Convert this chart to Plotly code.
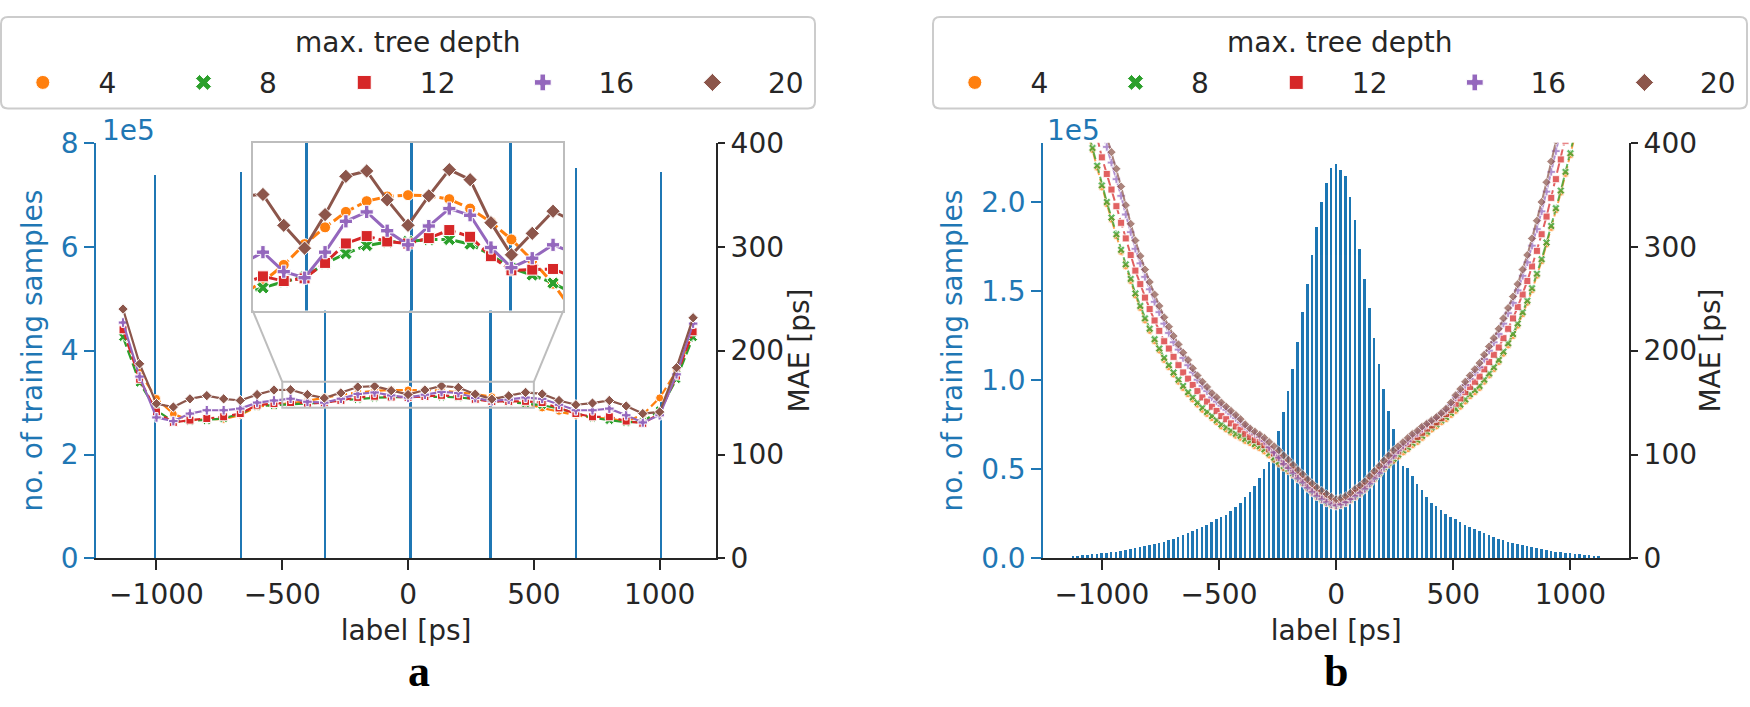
import plotly.graph_objects as go

W, H = 1750, 707
BLUE = '#1f77b4'
INK = '#262626'
FRAME = '#bdbdbd'
FONT = 'DejaVu Sans'
FS = 28

depths = ['4', '8', '12', '16', '20']
colors = ['#ff7f0e', '#2ca02c', '#d62728', '#9467bd', '#8c564b']
symbols = ['circle', 'x', 'square', 'cross', 'diamond']
dashes = ['10px,4px', '10px,4px', '10px,4px', 'solid', 'solid']

# ---------------- panel a ----------------
hist_a_x = [-1005, -662, -328, 11, 329, 668, 1006]
hist_a_n = [738000, 744000, 750000, 755000, 749000, 751000, 745000]

label_a = [-1133, -1067, -1000, -933, -867, -800, -733, -667, -600, -533, -467, -400,
           -333, -267, -200, -133, -67, 0, 67, 133, 200, 267, 333, 400, 467, 533, 600,
           667, 733, 800, 867, 933, 1000, 1067, 1133]
mae_a_4 = [218, 179, 154, 139, 133, 134, 134, 138, 146, 147.5, 149.3, 151.8, 154.9, 157.4,
           159.7, 161.3, 162.0, 162.2, 162.1, 161.6, 160.2, 158.2, 155.6, 152.5, 149.0, 144.8,
           141.6, 137.8, 135.4, 134.7, 131.6, 138.5, 154.5, 180.3, 216.6]
mae_a_8 = [213, 169, 142.6, 131.6, 132.2, 133.1, 134.7, 139.4, 146.5, 147.5, 148.4, 149.3,
           150.0, 152.0, 153.5, 154.7, 155.2, 155.3, 155.6, 155.6, 154.9, 153.3, 151.3, 150.3,
           149.1, 147.5, 144.2, 139.4, 135.4, 133.1, 130.9, 131.6, 142.6, 172.5, 212.8]
mae_a_12 = [220, 172.5, 141.0, 130.9, 133.1, 134.7, 136.3, 139.4, 147.5, 149.0, 150.1, 149.4,
            149.8, 152.1, 155.0, 156.1, 155.3, 155.0, 155.8, 157.0, 156.0, 153.1, 151.0, 151.1,
            151.2, 150.0, 144.8, 139.4, 136.3, 136.3, 132.2, 130.0, 139.4, 175.6, 218.1]
mae_a_16 = [227, 175, 135.7, 132.2, 139.4, 142.6, 142.6, 144.2, 150.0, 152.0, 153.7, 150.8,
            149.9, 153.7, 158.3, 159.7, 156.9, 154.8, 157.6, 160.2, 159.2, 154.4, 151.4, 152.8,
            154.8, 153.6, 147.9, 142.6, 142.6, 144.2, 137.8, 130.9, 137.8, 177.2, 226.0]
mae_a_20 = [240, 187.3, 148.9, 145.7, 153.6, 156.7, 153.6, 152.0, 157.7, 162.1, 162.3, 157.7,
            154.3, 159.3, 165.0, 165.8, 161.5, 157.7, 162.1, 166.0, 164.5, 158.1, 153.3, 156.5,
            159.8, 158.3, 152.0, 147.9, 149.5, 152.0, 146.7, 139.4, 141.0, 183.5, 231.6]

# ---------------- panel b ----------------
label_b = [-1122, -1102, -1081, -1061, -1040, -1020, -1000, -979, -959, -938,
           -918, -898, -877, -857, -836, -816, -796, -775, -755, -734,
           -714, -694, -673, -653, -632, -612, -592, -571, -551, -530,
           -510, -490, -469, -449, -428, -408, -388, -367, -347, -326,
           -306, -286, -265, -245, -224, -204, -184, -163, -143, -122,
           -102, -82, -61, -41, -20, 0, 20, 41, 61, 82, 102,
           122, 143, 163, 184, 204, 224, 245, 265, 286, 306,
           326, 347, 367, 388, 408, 428, 449, 469, 490, 510,
           530, 551, 571, 592, 612, 632, 653, 673, 694, 714,
           734, 755, 775, 796, 816, 836, 857, 877, 898, 918,
           938, 959, 979, 1000, 1020, 1040, 1061, 1081, 1102, 1122]
hist_b_n = [1500, 1700, 1900, 2100, 2400, 2700, 3000, 3300, 3600, 4000,
            4400, 4800, 5300, 5800, 6300, 6900, 7500, 8200, 8900, 9600,
            10400, 11300, 12200, 13200, 14200, 15300, 16500, 17800, 19000, 20500,
            22000, 23500, 24700, 26500, 28900, 31300, 34400, 37200, 40800, 45000,
            50400, 54200, 61000, 71500, 82500, 94100, 106600, 121300, 138500, 154100,
            170300, 186200, 200000, 211000, 218900, 221300,
            218300, 214900, 202900, 189900, 173900, 157100, 140900, 124000, 109300, 95000,
            83000, 73000, 61900, 51900, 50900, 46400, 41700, 38400, 34800, 31100,
            29800, 27100, 24900, 23500, 22000, 20500, 19000, 17800, 16500, 15300,
            14200, 13200, 12200, 11300, 10400, 9600, 8900, 8200, 7500, 6900,
            6300, 5800, 5300, 4800, 4400, 4000, 3600, 3300, 3000, 2700,
            2400, 2100, 1900, 1700, 1500]
mae_b_4 = [470, 450, 430, 410, 393, 376, 357, 341, 326, 310,
           295, 281, 267, 253, 241, 229, 219, 209, 200, 191,
           184, 177, 170, 164, 158, 153, 148, 143, 139, 135,
           131, 127, 124, 121, 118, 116, 113, 111, 108, 106,
           103, 99, 95, 91, 87, 84, 80, 76, 72, 67,
           63, 59, 56, 53, 51, 50,
           51, 53, 56, 59, 62, 66, 71, 76, 81, 86,
           90, 94, 98, 102, 105, 109, 112, 116, 120, 124,
           127, 131, 134, 138, 142, 146, 151, 156, 160, 164,
           170, 176, 182, 189, 197, 205, 214, 224, 235, 246,
           258, 272, 286, 302, 318, 335, 352, 370, 388, 406,
           425, 445, 465, 485, 505]
mae_b_8 = [472, 452, 432, 412, 395, 378, 359, 343, 328, 312,
           297, 283, 269, 255, 243, 231, 221, 211, 202, 193,
           186, 179, 172, 166, 160, 155, 150, 145, 141, 137,
           133, 129, 126, 123, 120, 118, 115, 113, 110, 108,
           105, 101, 97, 93, 89, 86, 82, 78, 74, 69,
           65, 61, 58, 55, 53, 52,
           53, 55, 58, 61, 64, 68, 73, 78, 83, 88,
           92, 96, 100, 104, 107, 111, 114, 118, 122, 126,
           129, 133, 136, 140, 144, 148, 153, 158, 162, 166,
           172, 178, 184, 191, 199, 207, 216, 226, 237, 248,
           260, 274, 288, 304, 320, 337, 354, 372, 390, 408,
           427, 447, 467, 487, 507]
mae_b_12 = [497, 478, 459, 440, 422, 405, 386, 370, 355, 339,
            323, 308, 292, 277, 264, 251, 240, 229, 219, 209,
            202, 194, 186, 179, 173, 167, 161, 155, 151, 146,
            142, 137, 134, 130, 127, 124, 120, 117, 114, 112,
            109, 105, 101, 97, 92, 89, 85, 80, 76, 71,
            67, 63, 60, 57, 55, 53,
            54, 56, 59, 63, 66, 70, 75, 80, 85, 90,
            94, 99, 103, 107, 110, 114, 117, 121, 125, 128,
            131, 135, 139, 143, 149, 154, 160, 165, 170, 175,
            182, 189, 196, 203, 212, 221, 231, 242, 254, 267,
            281, 296, 312, 329, 347, 365, 384, 402, 421, 440,
            460, 480, 500, 520, 540]
mae_b_16 = [521, 503, 484, 466, 448, 430, 412, 396, 381, 365,
            349, 331, 314, 298, 284, 271, 259, 247, 237, 226,
            217, 208, 201, 193, 186, 179, 172, 166, 161, 155,
            151, 147, 143, 139, 135, 131, 127, 123, 120, 117,
            113, 107, 102, 97, 91, 87, 82, 77, 73, 68,
            64, 60, 57, 54, 52, 51,
            52, 54, 57, 60, 63, 67, 72, 77, 82, 88,
            93, 99, 104, 109, 113, 118, 121, 125, 129, 132,
            135, 139, 143, 148, 155, 160, 167, 173, 179, 184,
            192, 200, 208, 216, 226, 236, 246, 258, 272, 285,
            301, 317, 334, 353, 372, 392, 412, 431, 451, 471,
            490, 510, 530, 550, 570]
mae_b_20 = [530, 512, 494, 476, 458, 440, 422, 406, 391, 375,
            358, 340, 322, 306, 291, 278, 266, 254, 243, 232,
            223, 214, 206, 198, 191, 183, 176, 170, 165, 159,
            155, 150, 146, 142, 138, 134, 129, 125, 122, 119,
            116, 112, 108, 104, 99, 95, 90, 85, 81, 76,
            72, 68, 65, 62, 59, 57,
            58, 60, 63, 67, 70, 74, 79, 84, 89, 94,
            99, 104, 108, 112, 116, 120, 123, 127, 130, 133,
            136, 140, 144, 150, 157, 163, 170, 176, 182, 188,
            196, 204, 212, 221, 231, 241, 252, 264, 278, 292,
            308, 325, 343, 362, 382, 402, 422, 442, 462, 482,
            502, 522, 542, 562, 582]

mae_a = [mae_a_4, mae_a_8, mae_a_12, mae_a_16, mae_a_20]
mae_b = [mae_b_4, mae_b_8, mae_b_12, mae_b_16, mae_b_20]

# geometry (pixels of the 1750x707 canvas) and axis ranges
ytop_px, ybot_px = 133, 569
ydom = [1 - ybot_px / H, 1 - ytop_px / H]
xdom_a = [96.1 / W, 716 / W]
xdom_b = [1043.3 / W, 1629 / W]
xrange_a = [-1240, 1224]
xrange_b = [-1250, 1250]
inset_x = [252.7 / W, 563.3 / W]
inset_y = [1 - 309 / H, 1 - ytop_px / H]
zoom_x = [-500, 500]
zoom_mae = [145, 170]
mae_range = [0, 400]
legend_boxes = [(1, 815), (933, 1747)]   # left/right pixel edges of the two legend frames
legend_box_y = (1, 97)

fig = go.Figure()

# histograms
fig.add_trace(go.Bar(x=hist_a_x, y=hist_a_n, width=7, marker_color=BLUE,
                     marker_line_width=0, xaxis='x', yaxis='y', showlegend=False))
fig.add_trace(go.Bar(x=label_b, y=hist_b_n, width=11, marker_color=BLUE,
                     marker_line_width=0, xaxis='x2', yaxis='y3', showlegend=False))
fig.add_trace(go.Bar(x=hist_a_x, y=hist_a_n, width=10, marker_color=BLUE,
                     marker_line_width=0, xaxis='x3', yaxis='y5', showlegend=False))

# MAE curves
for i in range(5):
    fig.add_trace(go.Scatter(
        x=label_a, y=mae_a[i], mode='lines+markers', xaxis='x', yaxis='y2',
        line=dict(color=colors[i], width=2.2, dash=dashes[i]),
        marker=dict(symbol=symbols[i], size=8, color=colors[i],
                    line=dict(color='white', width=1)),
        showlegend=False))
for i in range(5):
    fig.add_trace(go.Scatter(
        x=label_b, y=mae_b[i], mode='lines+markers', xaxis='x2', yaxis='y4',
        line=dict(color=colors[i], width=2, dash=dashes[i]),
        marker=dict(symbol=symbols[i], size=7, color=colors[i],
                    line=dict(color='white', width=0.8)),
        opacity=0.72, showlegend=False))
for i in range(5):
    fig.add_trace(go.Scatter(
        x=label_a, y=mae_a[i], mode='lines+markers', xaxis='x3', yaxis='y6',
        line=dict(color=colors[i], width=3, dash=dashes[i]),
        marker=dict(symbol=symbols[i], size=11, color=colors[i],
                    line=dict(color='white', width=1)),
        showlegend=False))

# legend entries (markers only); padding spaces spread the columns like the original
NB = '\u00a0'
trail = [7, 7, 7, 6, 0]
for leg in ['legend', 'legend2']:
    for i in range(5):
        fig.add_trace(go.Scatter(
            x=[None], y=[None], mode='markers', name=NB * 4 + depths[i] + NB * trail[i],
            xaxis='x', yaxis='y2', legend=leg,
            marker=dict(symbol=symbols[i], size=14, color=colors[i],
                        line=dict(color='white', width=1))))

axis_common = dict(showgrid=False, zeroline=False, showline=True, linewidth=2,
                   ticks='outside', ticklen=10, tickwidth=2)
xt_vals = [-1000, -500, 0, 500, 1000]
xt_text = ['\u22121000', '\u2212500', '0', '500', '1000']


def xaxis_style(dom, rng, anchor):
    return dict(axis_common, domain=dom, range=rng, anchor=anchor,
                linecolor=INK, tickcolor=INK, tickfont=dict(family=FONT, size=FS, color=INK),
                tickvals=xt_vals, ticktext=xt_text,
                title=dict(text='label [ps]', font=dict(family=FONT, size=FS, color=INK), standoff=10))


def count_axis(rng, vals, text, anchor):
    return dict(axis_common, domain=ydom, range=rng, anchor=anchor,
                linecolor=BLUE, tickcolor=BLUE, tickfont=dict(family=FONT, size=FS, color=BLUE),
                tickvals=vals, ticktext=text,
                title=dict(text='no. of training samples',
                           font=dict(family=FONT, size=FS, color=BLUE), standoff=10))


def mae_axis(over, anchor):
    return dict(axis_common, overlaying=over, side='right', range=mae_range, anchor=anchor,
                ticklen=7,
                linecolor=INK, tickcolor=INK, tickfont=dict(family=FONT, size=FS, color=INK),
                tickvals=[0, 100, 200, 300, 400])


inset_axis = dict(showgrid=False, zeroline=False, showline=True, mirror=True,
                  linecolor=FRAME, linewidth=2, ticks='', showticklabels=False)

legend_common = dict(orientation='h', yanchor='middle', y=1 - 70 / H, xanchor='left',
                     bgcolor='rgba(0,0,0,0)', borderwidth=0,
                     font=dict(family=FONT, size=FS, color=INK),
                     entrywidth=0, itemclick=False, itemdoubleclick=False)


# zoom indicator: rectangle and connector lines to the inset corners
def to_data_x(p):
    return xrange_a[0] + (p - xdom_a[0]) / (xdom_a[1] - xdom_a[0]) * (xrange_a[1] - xrange_a[0])


def to_data_mae(p):
    return mae_range[0] + (p - ydom[0]) / (ydom[1] - ydom[0]) * (mae_range[1] - mae_range[0])


def rounded_box(x0, x1, y0, y1, r=7):
    # pixel box -> paper path with rounded corners
    X = lambda v: v / W
    Y = lambda v: 1 - v / H
    return (f'M {X(x0 + r)},{Y(y0)} L {X(x1 - r)},{Y(y0)} Q {X(x1)},{Y(y0)} {X(x1)},{Y(y0 + r)} '
            f'L {X(x1)},{Y(y1 - r)} Q {X(x1)},{Y(y1)} {X(x1 - r)},{Y(y1)} '
            f'L {X(x0 + r)},{Y(y1)} Q {X(x0)},{Y(y1)} {X(x0)},{Y(y1 - r)} '
            f'L {X(x0)},{Y(y0 + r)} Q {X(x0)},{Y(y0)} {X(x0 + r)},{Y(y0)} Z')


shapes = [
    dict(type='rect', xref='x', yref='y2', x0=zoom_x[0], x1=zoom_x[1],
         y0=zoom_mae[0], y1=zoom_mae[1], line=dict(color=FRAME, width=2), layer='above'),
    dict(type='line', xref='x', yref='y2', x0=zoom_x[0], y0=zoom_mae[1],
         x1=to_data_x(inset_x[0]), y1=to_data_mae(inset_y[0]),
         line=dict(color=FRAME, width=2), layer='above'),
    dict(type='line', xref='x', yref='y2', x0=zoom_x[1], y0=zoom_mae[1],
         x1=to_data_x(inset_x[1]), y1=to_data_mae(inset_y[0]),
         line=dict(color=FRAME, width=2), layer='above'),
]
for bx0, bx1 in legend_boxes:
    shapes.append(dict(type='path', xref='paper', yref='paper',
                       path=rounded_box(bx0, bx1, legend_box_y[0], legend_box_y[1]),
                       line=dict(color='#cccccc', width=2), fillcolor='white', layer='below'))

ymid = 1 - (ytop_px + ybot_px) / 2 / H
annotations = [
    dict(text='1e5', xref='paper', yref='paper', x=100 / W, y=1 - 120 / H,
         xanchor='left', yanchor='middle', showarrow=False,
         font=dict(family=FONT, size=FS, color=BLUE)),
    dict(text='1e5', xref='paper', yref='paper', x=1045 / W, y=1 - 120 / H,
         xanchor='left', yanchor='middle', showarrow=False,
         font=dict(family=FONT, size=FS, color=BLUE)),
    dict(text='MAE [ps]', xref='paper', yref='paper', x=800 / W, y=ymid, textangle=-90,
         xanchor='center', yanchor='middle', showarrow=False,
         font=dict(family=FONT, size=FS, color=INK)),
    dict(text='MAE [ps]', xref='paper', yref='paper', x=1711 / W, y=ymid, textangle=-90,
         xanchor='center', yanchor='middle', showarrow=False,
         font=dict(family=FONT, size=FS, color=INK)),
    dict(text='<b>a</b>', xref='paper', yref='paper', x=419 / W, y=0.0, yshift=-8,
         xanchor='center', yanchor='bottom', showarrow=False,
         font=dict(family='Liberation Serif', size=44, color='black')),
    dict(text='<b>b</b>', xref='paper', yref='paper', x=1336 / W, y=0.0, yshift=-8,
         xanchor='center', yanchor='bottom', showarrow=False,
         font=dict(family='Liberation Serif', size=44, color='black')),
]
for bx0, bx1 in legend_boxes:
    annotations.append(dict(text='max. tree depth', xref='paper', yref='paper',
                            x=(bx0 + bx1) / 2 / W, y=1 - 28 / H, xanchor='center',
                            yanchor='middle', showarrow=False,
                            font=dict(family=FONT, size=FS, color=INK)))

fig.update_layout(
    width=W, height=H,
    margin=dict(l=0, r=0, t=0, b=0),
    paper_bgcolor='white', plot_bgcolor='white',
    font=dict(family=FONT, size=FS, color=INK),
    bargap=0,
    xaxis=xaxis_style(xdom_a, xrange_a, 'y'),
    yaxis=count_axis([0, 800000], [0, 200000, 400000, 600000, 800000],
                     ['0', '2', '4', '6', '8'], 'x'),
    yaxis2=mae_axis('y', 'x'),
    xaxis2=xaxis_style(xdom_b, xrange_b, 'y3'),
    yaxis3=count_axis([0, 233200], [0, 50000, 100000, 150000, 200000],
                      ['0.0', '0.5', '1.0', '1.5', '2.0'], 'x2'),
    yaxis4=mae_axis('y3', 'x2'),
    xaxis3=dict(inset_axis, domain=inset_x, range=zoom_x, anchor='y5'),
    yaxis5=dict(inset_axis, domain=inset_y, range=[288000, 337000], anchor='x3'),
    yaxis6=dict(overlaying='y5', range=zoom_mae, anchor='x3', visible=False),
    legend=dict(legend_common, x=(legend_boxes[0][0] + 21.8) / W),
    legend2=dict(legend_common, x=(legend_boxes[1][0] + 21.8) / W),
    shapes=shapes,
    annotations=annotations,
)

fig.write_html("out.html", config={'displayModeBar': False},
               post_script="document.body.style.margin='0px';document.body.style.overflow='hidden';")
